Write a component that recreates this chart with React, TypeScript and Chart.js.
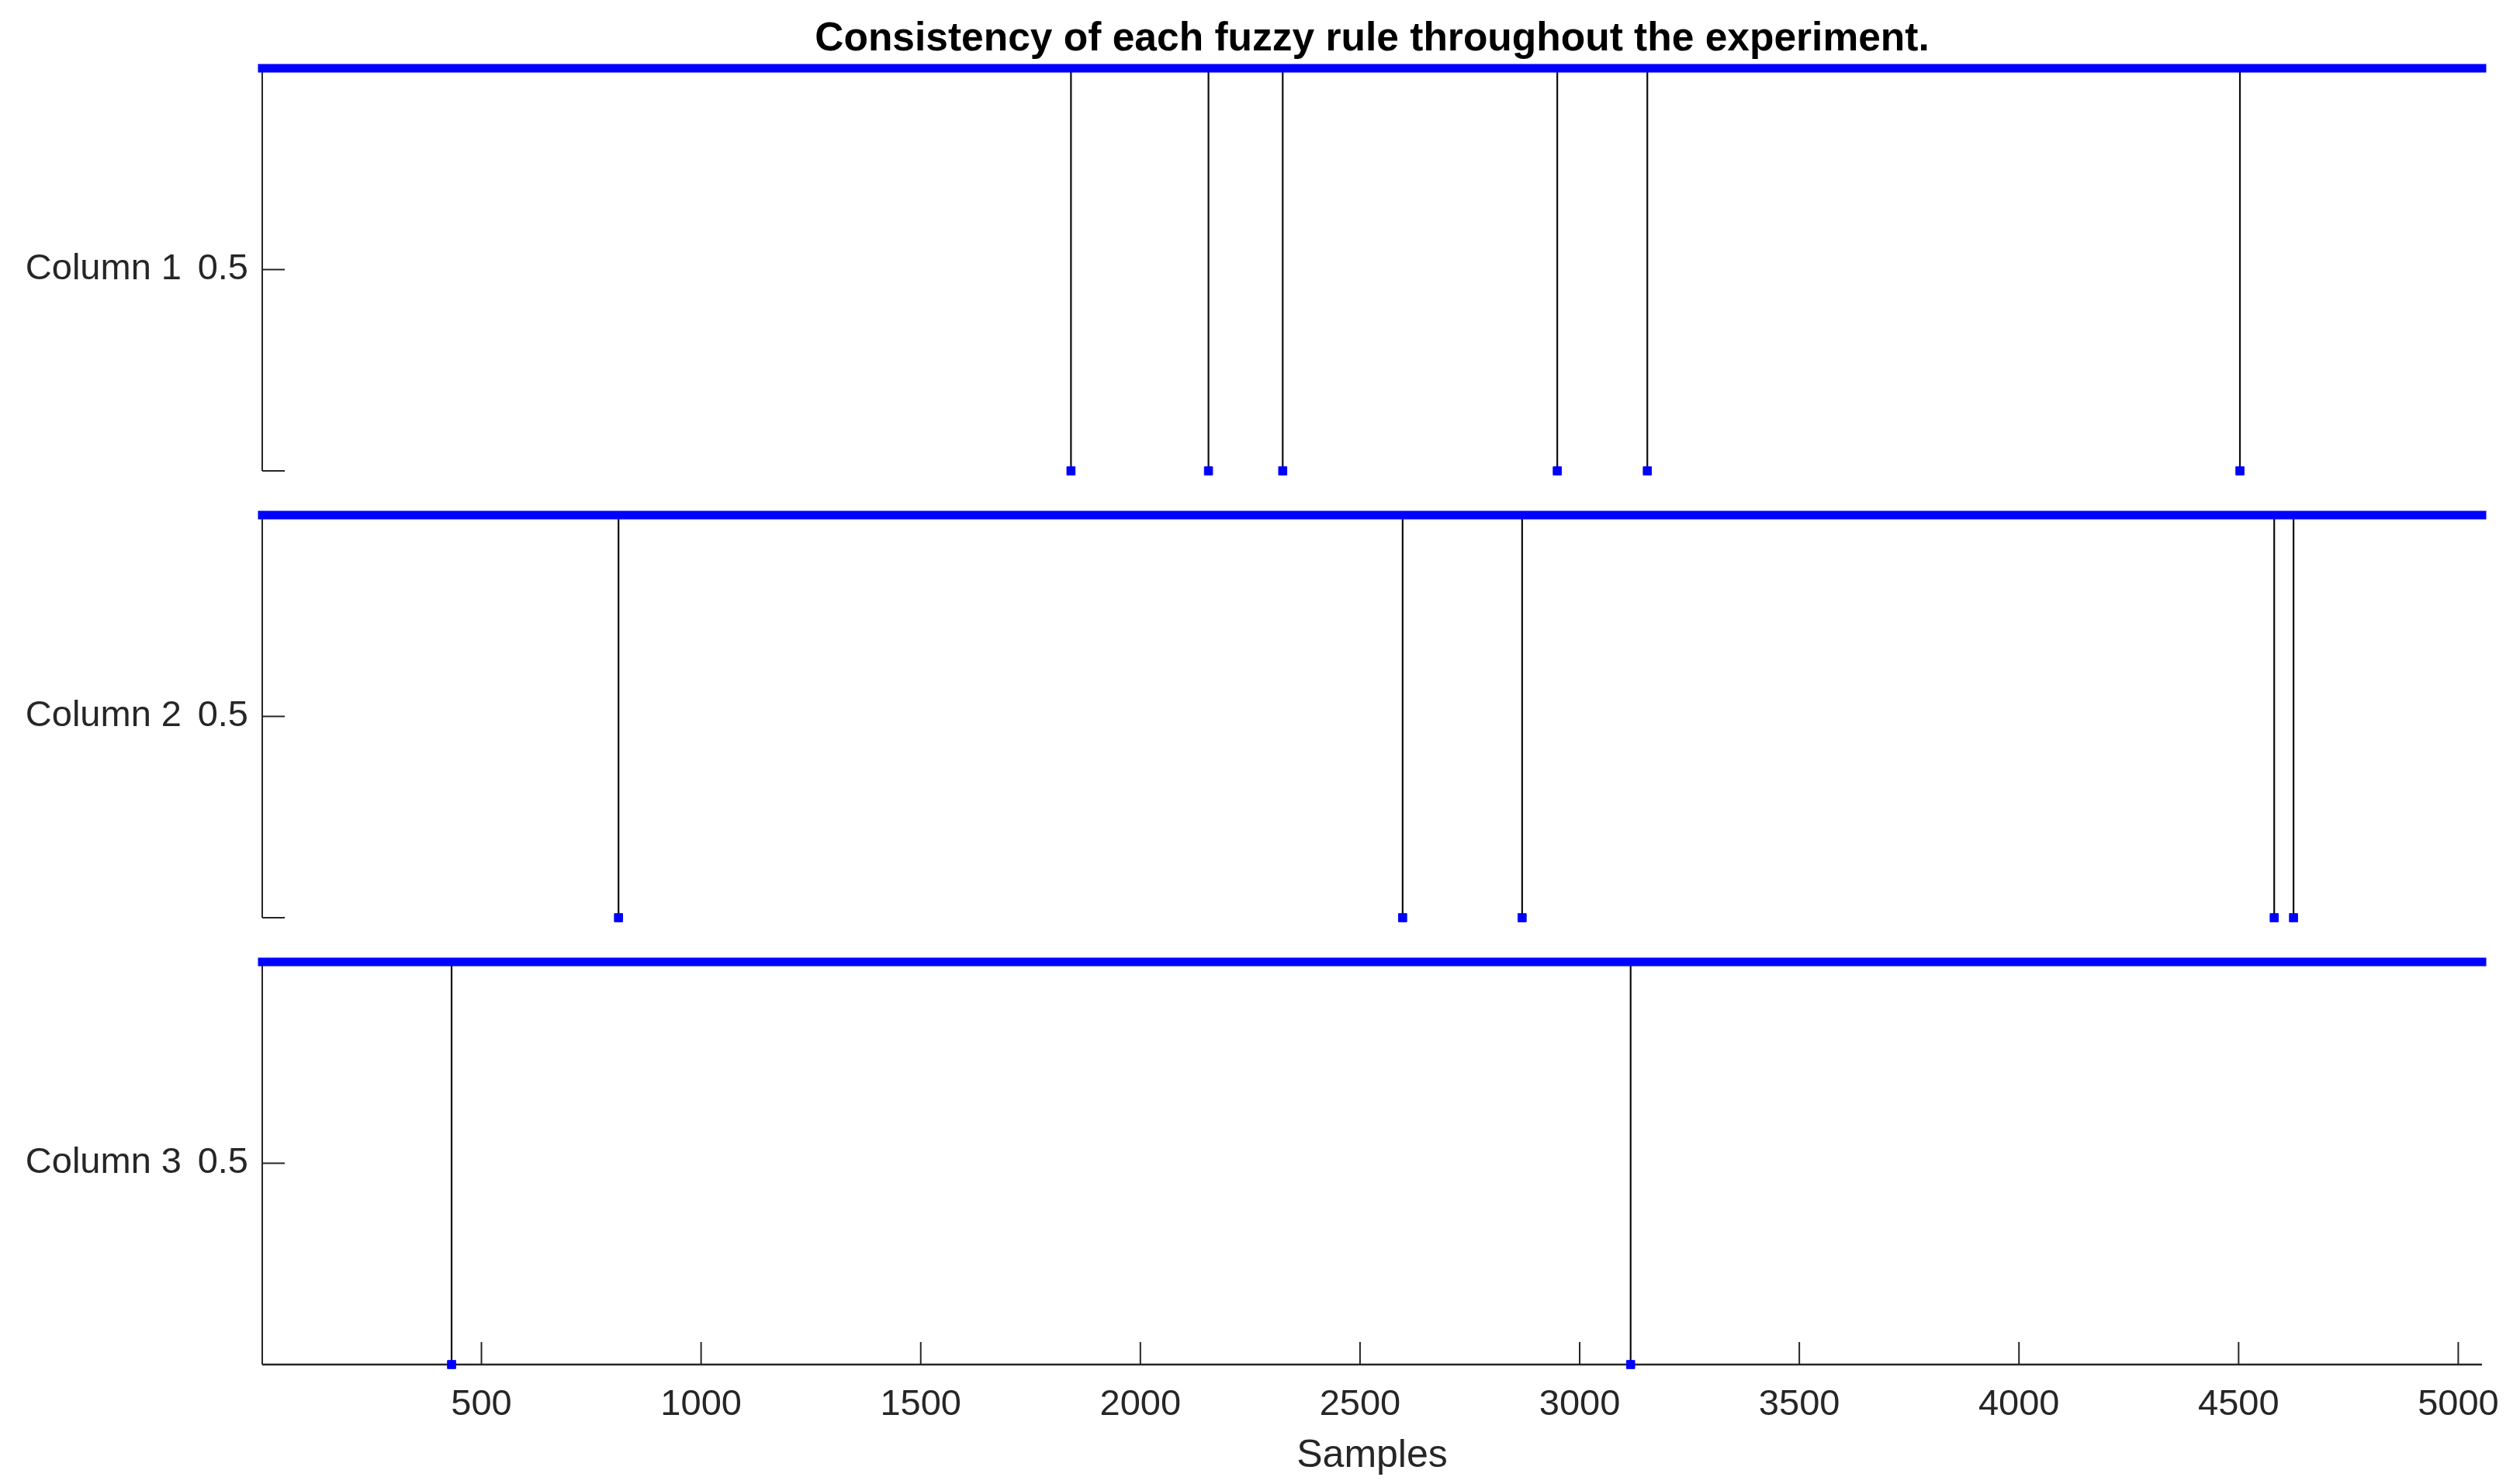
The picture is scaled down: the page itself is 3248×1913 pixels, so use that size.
import React, { useEffect, useRef } from "react";
import { Chart, registerables } from "chart.js";

Chart.register(...registerables);

// ---------------- data ----------------
const TITLE = "Consistency of each fuzzy rule throughout the experiment.";
const X_LABEL = "Samples";
const COLUMN_NAMES = ["Column 1", "Column 2", "Column 3"];
const SAMPLE_FIRST = 1;
const SAMPLE_LAST = 5054;
const HIGH = 1;
const LOW = 0;
// samples where each rule's consistency drops to 0
const COL1_DROPS = [1842, 2155, 2324, 2949, 3154, 4503];
const COL2_DROPS = [812, 2597, 2869, 4581, 4625];
const COL3_DROPS = [432, 3116];
const X_TICKS = [500, 1000, 1500, 2000, 2500, 3000, 3500, 4000, 4500, 5000];
const Y_TICKS = [0, 0.5, 1];
const Y_LABELLED = 0.5;

const DROPS = [COL1_DROPS, COL2_DROPS, COL3_DROPS];

// ---------------- style / layout ----------------
const PAGE_W = 3248;
const PAGE_H = 1913;
const PITCH = 576;
const AREA_TOP = 88;
const AREA_BOTTOM = 607;
const BOTTOM_PAD = 47;
const CANVAS_H = AREA_BOTTOM + BOTTOM_PAD;
const LAST_CANVAS_H = PAGE_H - PITCH * 2;
const FONT = '"Liberation Sans", Arial, Helvetica, sans-serif';
const AXIS_COLOR = "#262626";
const BLUE = "#0000ff";
const TICK_FONT_SIZE = 47;

const matlabAxes = {
  id: "matlabAxes",
  beforeDatasetsDraw(chart: any, _args: any, opts: any) {
    const { ctx, chartArea } = chart;
    const x = chart.scales.x;
    const y = chart.scales.y;
    const left = chartArea.left;
    const y0 = y.getPixelForValue(LOW);
    const y1 = y.getPixelForValue(HIGH);
    ctx.save();
    ctx.strokeStyle = AXIS_COLOR;
    ctx.lineWidth = 2;
    ctx.beginPath();
    ctx.moveTo(left, y0);
    ctx.lineTo(left, y1);
    for (const t of y.ticks) {
      const py = y.getPixelForValue(t.value);
      ctx.moveTo(left, py);
      ctx.lineTo(left + 29, py);
    }
    ctx.stroke();
    if (opts && opts.showX) {
      ctx.lineWidth = 2.5;
      ctx.beginPath();
      ctx.moveTo(left, y0);
      ctx.lineTo(chartArea.right, y0);
      ctx.stroke();
      ctx.lineWidth = 2;
      ctx.beginPath();
      for (const t of x.ticks) {
        const px = x.getPixelForValue(t.value);
        ctx.moveTo(px, y0);
        ctx.lineTo(px, y0 - 29);
      }
      ctx.stroke();
    }
    // display name of the stacked variable, left of its tick label
    if (opts && opts.name) {
      ctx.fillStyle = AXIS_COLOR;
      ctx.font = `${TICK_FONT_SIZE}px ${FONT}`;
      ctx.textAlign = "right";
      ctx.textBaseline = "middle";
      ctx.fillText(opts.name, left - 104, y.getPixelForValue(Y_LABELLED));
    }
    ctx.restore();
  },
};

function makeConfig(i: number): any {
  const drops = DROPS[i];
  const isFirst = i === 0;
  const isLast = i === DROPS.length - 1;
  const name = COLUMN_NAMES[i];
  return {
    type: "line",
    data: {
      datasets: [
        {
          label: name,
          data: [
            { x: SAMPLE_FIRST, y: HIGH },
            { x: SAMPLE_LAST, y: HIGH },
          ],
          borderColor: BLUE,
          borderWidth: 11,
          borderCapStyle: "square",
          pointRadius: 0,
          clip: false,
        },
        {
          label: name + " drops",
          data: drops.map((d) => ({ x: d, y: LOW })),
          showLine: false,
          pointStyle: "rect",
          pointRadius: 7.5,
          pointBackgroundColor: BLUE,
          pointBorderColor: BLUE,
          pointBorderWidth: 1,
          clip: false,
        },
        {
          label: name + " stems",
          data: drops.flatMap((d) => [
            { x: d, y: HIGH },
            { x: d, y: LOW },
            { x: d, y: null },
          ]),
          borderColor: "#0d0d0d",
          borderWidth: 2.2,
          pointRadius: 0,
          spanGaps: false,
          clip: false,
        },
      ],
    },
    options: {
      animation: false,
      responsive: false,
      maintainAspectRatio: false,
      events: [],
      layout: {
        padding: {
          left: 0,
          right: 49,
          top: isFirst ? 0 : AREA_TOP,
          bottom: isLast ? 0 : BOTTOM_PAD,
        },
      },
      plugins: {
        legend: { display: false },
        tooltip: { enabled: false },
        title: isFirst
          ? {
              display: true,
              text: TITLE,
              color: "#000000",
              fullSize: false,
              align: "center",
              font: { family: FONT, size: 51.5, weight: "bold", lineHeight: 1.2 },
              padding: { top: 20, bottom: 6.2 },
            }
          : { display: false },
        matlabAxes: { showX: isLast, name },
      },
      scales: {
        x: {
          type: "linear",
          min: SAMPLE_FIRST,
          max: SAMPLE_LAST,
          display: isLast,
          grid: { display: false, drawTicks: false },
          border: { display: false },
          ticks: {
            color: AXIS_COLOR,
            font: { family: FONT, size: TICK_FONT_SIZE },
            padding: 24,
            maxRotation: 0,
            autoSkip: false,
            callback: (v: any) => String(v),
          },
          title: {
            display: true,
            text: X_LABEL,
            color: AXIS_COLOR,
            font: { family: FONT, size: 50, lineHeight: 1.2 },
            padding: { top: 0, bottom: 6 },
          },
          afterBuildTicks: (s: any) => {
            s.ticks = X_TICKS.map((v) => ({ value: v }));
          },
          afterFit: (s: any) => {
            if (isLast) s.height = LAST_CANVAS_H - AREA_BOTTOM;
          },
        },
        y: {
          type: "linear",
          min: LOW,
          max: HIGH,
          grid: { display: false, drawTicks: false },
          border: { display: false },
          ticks: {
            color: AXIS_COLOR,
            font: { family: FONT, size: TICK_FONT_SIZE },
            padding: 18,
            autoSkip: false,
            callback: (v: any) => (v === Y_LABELLED ? String(v) : ""),
          },
          afterBuildTicks: (s: any) => {
            s.ticks = Y_TICKS.map((v) => ({ value: v }));
          },
          afterFit: (s: any) => {
            s.width = 338;
          },
        },
      },
    },
    plugins: [matlabAxes],
  };
}

function Panel({ index }: { index: number }) {
  const ref = useRef<HTMLCanvasElement | null>(null);
  const isLast = index === DROPS.length - 1;
  const h = isLast ? LAST_CANVAS_H : CANVAS_H;
  useEffect(() => {
    if (!ref.current) return;
    const chart = new Chart(ref.current, makeConfig(index));
    return () => chart.destroy();
  }, [index]);
  return (
    <canvas
      ref={ref}
      width={PAGE_W}
      height={h}
      style={{
        position: "absolute",
        left: 0,
        top: index * PITCH,
        width: PAGE_W,
        height: h,
        display: "block",
      }}
    />
  );
}

export default function App() {
  return (
    <div
      style={{
        position: "absolute",
        left: 0,
        top: 0,
        width: PAGE_W,
        height: PAGE_H,
        background: "#ffffff",
        overflow: "hidden",
      }}
    >
      {DROPS.map((_, i) => (
        <Panel key={i} index={i} />
      ))}
    </div>
  );
}
